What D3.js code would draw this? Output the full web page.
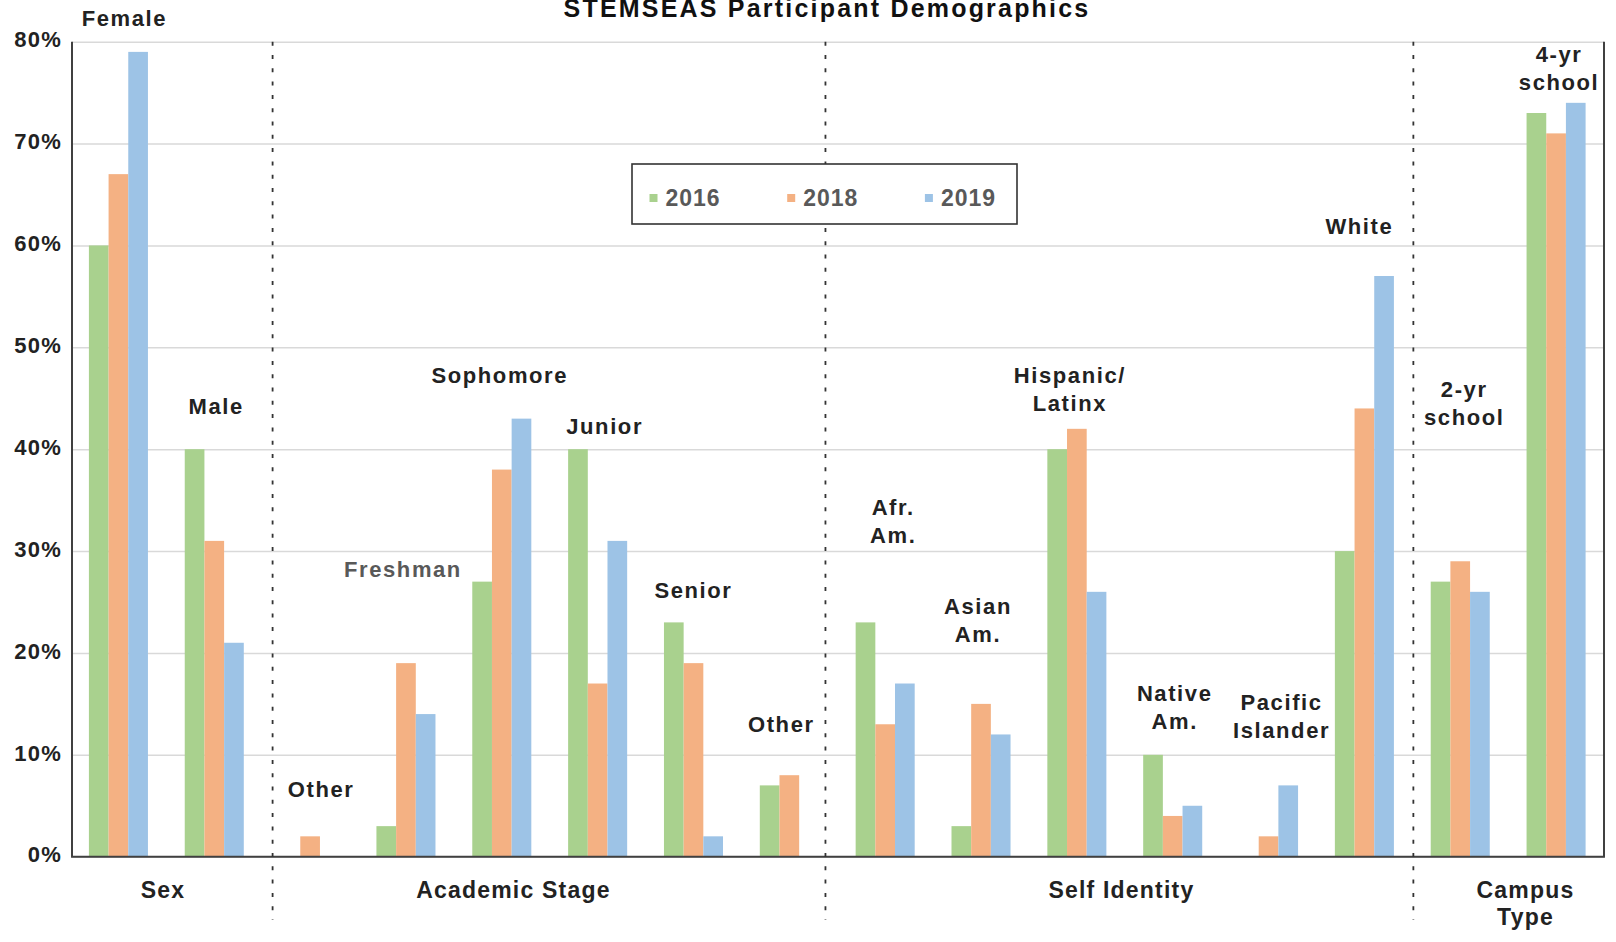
<!DOCTYPE html>
<html>
<head>
<meta charset="utf-8">
<script src="https://cdn.jsdelivr.net/npm/d3@7"></script>
<style>
  body { margin: 0; background: #fff; }
  svg { display: block; font-family: "Liberation Sans", Arial, sans-serif; font-weight: bold; }
</style>
</head>
<body>
<svg></svg>
<script>
const width = 1616;
const height = 942;

// ================================
// Data
// ================================

const categories = ['Female', 'Male', 'Other (stage)', 'Freshman', 'Sophomore', 'Junior', 'Senior', 'Other',
  'Afr. Am.', 'Asian Am.', 'Hispanic/Latinx', 'Native Am.', 'Pacific Islander', 'White', '2-yr school', '4-yr school'];
const years = ['2016', '2018', '2019'];
const v2016 = [60, 40, 0, 3, 27, 40, 23, 7, 23, 3, 40, 10, 0, 30, 27, 73];
const v2018 = [67, 31, 2, 19, 38, 17, 19, 8, 13, 15, 42, 4, 2, 44, 29, 71];
const v2019 = [79, 21, 0, 14, 43, 31, 2, 0, 17, 12, 26, 5, 7, 57, 26, 74];
const yTicks = [0, 10, 20, 30, 40, 50, 60, 70, 80];

const labelLines = [['Female'], ['Male'], ['Other'], ['Freshman'], ['Sophomore'], ['Junior'], ['Senior'], ['Other'],
  ['Afr.', 'Am.'], ['Asian', 'Am.'], ['Hispanic/', 'Latinx'], ['Native', 'Am.'], ['Pacific', 'Islander'], ['White'],
  ['2-yr', 'school'], ['4-yr', 'school']];
const groups = [['Sex'], ['Academic Stage'], ['Self Identity'], ['Campus', 'Type']];

// label placement (y in % units, x shift in px) - layout only
const labelAt = [81.5, 43.5, 5.9, 27.5, 46.5, 41.5, 25.4, 12.2, 33.5, 23.8, 46.5, 15.3, 14.4, 61.1, 45.1, 78.0];
const labelDx = [6, 2, 11, -3, -2, 7, 0, -8, 8, -3, -7, 2, 13, -5, 4, 3];
const groupAt = [0.95, 4.61, 10.96, 15.18];   // in band units
const separators = [2.095, 7.869, 14.009];     // in band units

const colors = { '2016': '#a9d18e', '2018': '#f4b183', '2019': '#9dc3e6' };

// ================================
// Scales
// ================================

const plotLeft = 72, plotRight = 1604, plotTop = 41.7, plotBottom = 856.7;

const svg = d3.select('svg')
  .attr('width', width)
  .attr('height', height);

const x = d3.scaleBand()
  .domain(categories)
  .range([70.5, plotRight])
  .paddingInner(0.384)
  .paddingOuter(0.192);

const x1 = d3.scaleBand()
  .domain(years)
  .range([0, x.bandwidth()]);

const y = d3.scaleLinear()
  .domain([0, 80])
  .range([plotBottom, plotTop]);

const bandPos = d3.scaleLinear()
  .domain([0, categories.length])
  .range([plotLeft, plotRight]);

// ================================
// Grid + y axis
// ================================

const yAxis = svg.append('g')
  .attr('transform', `translate(${plotLeft},0)`)
  .call(d3.axisLeft(y)
    .tickValues(yTicks)
    .tickFormat(d => d + '%')
    .tickSize(-(plotRight - plotLeft))
    .tickPadding(10));

yAxis.select('.domain').remove();
yAxis.selectAll('line')
  .attr('stroke', '#d9d9d9')
  .attr('stroke-width', 1.5);
yAxis.selectAll('text')
  .attr('fill', '#222')
  .attr('dy', '0.24em')
  .style('font-size', '22px')
  .style('letter-spacing', '1.2px');

// ================================
// Bars
// ================================

const rows = categories.map((c, i) => ({
  cat: c,
  vals: [v2016[i], v2018[i], v2019[i]].map((v, j) => ({ year: years[j], v }))
}));

svg.append('g')
  .selectAll('g')
  .data(rows)
  .enter()
  .append('g')
    .attr('transform', d => `translate(${x(d.cat)},0)`)
  .selectAll('rect')
  .data(d => d.vals.filter(e => e.v > 0))
  .enter()
  .append('rect')
    .attr('x', d => x1(d.year))
    .attr('y', d => y(d.v))
    .attr('width', x1.bandwidth())
    .attr('height', d => y(0) - y(d.v))
    .attr('fill', d => colors[d.year]);

// ================================
// Frame + separators
// ================================

const frame = svg.append('g')
  .attr('stroke', '#404040')
  .attr('stroke-width', 2);
frame.append('line').attr('x1', plotLeft).attr('x2', plotLeft).attr('y1', plotTop).attr('y2', plotBottom);
frame.append('line').attr('x1', plotRight).attr('x2', plotRight).attr('y1', plotTop).attr('y2', plotBottom);
frame.append('line').attr('x1', plotLeft - 1).attr('x2', plotRight + 1).attr('y1', plotBottom).attr('y2', plotBottom);

svg.append('g')
  .selectAll('line')
  .data(separators)
  .enter()
  .append('line')
    .attr('x1', d => bandPos(d))
    .attr('x2', d => bandPos(d))
    .attr('y1', plotTop)
    .attr('y2', 920)
    .attr('stroke', '#333')
    .attr('stroke-width', 1.8)
    .attr('stroke-dasharray', '4 9.3');

// ================================
// Labels
// ================================

svg.append('g')
  .selectAll('text')
  .data(categories)
  .enter()
  .append('text')
    .attr('x', (d, i) => x(d) + x.bandwidth() / 2 + labelDx[i])
    .attr('y', (d, i) => y(labelAt[i]))
    .attr('text-anchor', 'middle')
    .attr('fill', d => d === 'Freshman' ? '#595959' : '#222')
    .style('font-size', '22px')
    .style('letter-spacing', '1.6px')
  .selectAll('tspan')
  .data((d, i) => labelLines[i])
  .enter()
  .append('tspan')
    .attr('x', function () { return this.parentNode.getAttribute('x'); })
    .attr('dy', (d, i) => i === 0 ? 0 : 27.8)
    .text(d => d);

svg.append('g')
  .selectAll('text')
  .data(groups)
  .enter()
  .append('text')
    .attr('x', (d, i) => bandPos(groupAt[i]))
    .attr('y', 898)
    .attr('text-anchor', 'middle')
    .attr('fill', '#222')
    .style('font-size', '23px')
    .style('letter-spacing', '1.2px')
  .selectAll('tspan')
  .data(d => d)
  .enter()
  .append('tspan')
    .attr('x', function () { return this.parentNode.getAttribute('x'); })
    .attr('dy', (d, i) => i === 0 ? 0 : 27.3)
    .text(d => d);

svg.append('text')
  .attr('x', 827)
  .attr('y', 17)
  .attr('text-anchor', 'middle')
  .attr('fill', '#111')
  .style('font-size', '25px')
  .style('letter-spacing', '2.2px')
  .text('STEMSEAS Participant Demographics');

// ================================
// Legend
// ================================

const legend = svg.append('g');
legend.append('rect')
  .attr('x', 632).attr('y', 164)
  .attr('width', 385).attr('height', 60)
  .attr('fill', '#fff')
  .attr('stroke', '#333')
  .attr('stroke-width', 1.6);

const item = legend.selectAll('g')
  .data(years)
  .enter()
  .append('g')
    .attr('transform', (d, i) => `translate(${649.5 + i * 137.7},0)`);
item.append('rect')
  .attr('y', 194).attr('width', 8).attr('height', 8)
  .attr('fill', d => colors[d]);
item.append('text')
  .attr('x', 16).attr('y', 205.7)
  .attr('fill', '#595959')
  .style('font-size', '23px')
  .style('letter-spacing', '1px')
  .text(d => d);
</script>
</body>
</html>
